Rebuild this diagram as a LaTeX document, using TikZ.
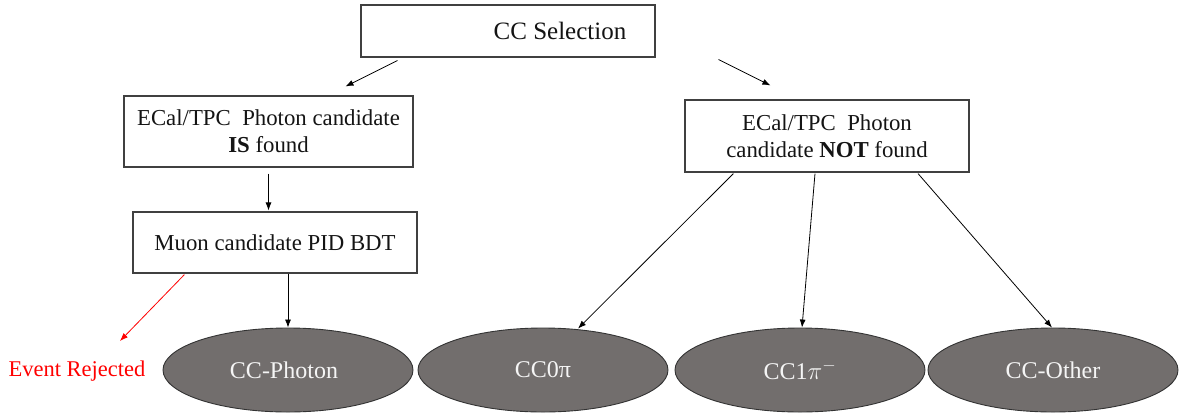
\documentclass[tikz,border=0pt]{standalone}
\usepackage{fontspec}
\setmainfont{Liberation Serif}
\usetikzlibrary{shapes.geometric,arrows.meta,calc}
\definecolor{ellfill}{RGB}{114,110,109}
\definecolor{boxline}{RGB}{64,64,64}
\definecolor{txt}{RGB}{20,20,20}
\definecolor{elltext}{RGB}{245,245,245}
\begin{document}
\begin{tikzpicture}[x=1pt,y=-1pt,
  box/.style={draw=boxline,line width=1.1pt,fill=white,rectangle,inner sep=0pt,align=center,text=txt,
    font=\fontsize{22.8}{27}\selectfont},
  oval/.style={ellipse,draw=black!80,line width=0.9pt,fill=ellfill,minimum width=250pt,minimum height=84pt,
    inner sep=0pt,text=elltext,font=\fontsize{24}{28}\selectfont},
  arr/.style={-{Latex[length=8pt,width=6pt]},line width=0.8pt,black},
  redarr/.style={-{Latex[length=8pt,width=6pt]},line width=0.8pt,red}]
\useasboundingbox (0,0) rectangle (1179,416);

\node[box,minimum width=294pt,minimum height=52pt,font=\fontsize{25}{30}\selectfont] (sel) at (508,31) {\hspace*{104pt}CC Selection};
\node[box,minimum width=289pt,minimum height=71pt] (isf) at (268.5,131.5) {ECal/TPC\ \ Photon candidate\\\textbf{IS} found};
\node[box,minimum width=284pt,minimum height=61pt] (muon) at (275,242.5) {Muon candidate PID BDT};
\node[box,minimum width=284pt,minimum height=72pt] (notf) at (827,136) {ECal/TPC\ \ Photon\\candidate \textbf{NOT} found};

\node[oval] (ccph) at (288,370) {\hspace*{-8pt}CC-Photon};
\node[oval] (cc0) at (543,370) {CC0π};
\node[oval] (cc1) at (800,370) {CC1$\pi^{-}$};
\node[oval] (ccot) at (1053,370) {CC-Other};

\node[text=red,font=\fontsize{22.5}{27}\selectfont,inner sep=0pt] (rej) at (77,371) {Event Rejected};
\coordinate (rejtip) at (120,341);

\draw[arr] ($(sel.south west)+(37,3)$) -- ($(isf.north)+(77,-9)$);
\draw[arr] ($(sel.south east)+(63,2)$) -- ($(notf.north west)+(86,-14)$);
\draw[arr] ($(isf.south)+(0,6)$) -- ($(isf.south |- muon.north)+(0,-1)$);
\draw[arr] (muon.south -| ccph.north) -- (ccph.north);
\draw[redarr] ($(muon.south west)+(52,1)$) -- (rejtip);
\draw[arr] ($(notf.south west)+(49,1)$) -- ($(cc0.north)+(35,1)$);
\draw[arr] ($(notf.south)+(-12,1)$) -- ($(cc1.north)+(2,0)$);
\draw[arr] ($(notf.south)+(91,1)$) -- ($(ccot.north)+(-1,0)$);
\end{tikzpicture}
\end{document}
